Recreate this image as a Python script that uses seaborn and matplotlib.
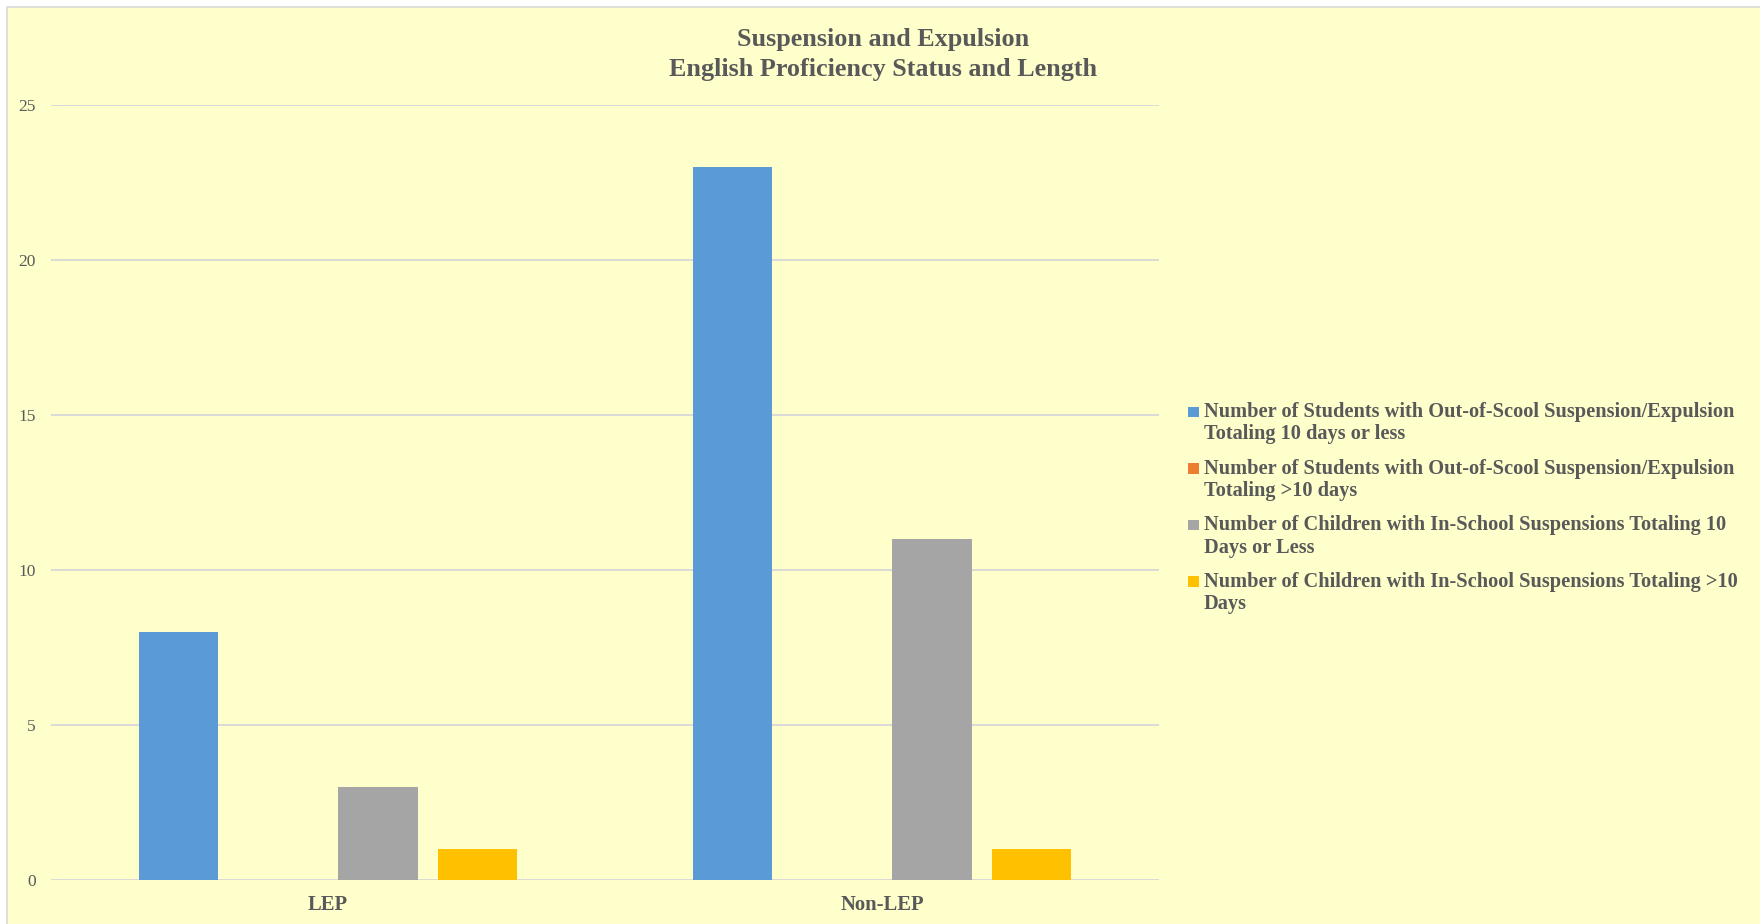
import numpy as np
import pandas as pd
import matplotlib
matplotlib.use("Agg")
import matplotlib.pyplot as plt
from matplotlib.patches import Rectangle
import seaborn as sns

# ---- data ----
categories = ["LEP", "Non-LEP"]
series_names = [
    "Number of Students with Out-of-Scool Suspension/Expulsion\nTotaling 10 days or less",
    "Number of Students with Out-of-Scool Suspension/Expulsion\nTotaling >10 days",
    "Number of Children with In-School Suspensions Totaling 10\nDays or Less",
    "Number of Children with In-School Suspensions Totaling >10\nDays",
]
out_le10 = [8, 23]
out_gt10 = [0, 0]
in_le10 = [3, 11]
in_gt10 = [1, 1]
series_colors = ["#5B9BD5", "#ED7D31", "#A5A5A5", "#FFC000"]
y_ticks = [0, 5, 10, 15, 20, 25]
title_lines = ["Suspension and Expulsion", "English Proficiency Status and Length"]

values = [out_le10, out_gt10, in_le10, in_gt10]
rows = []
for s, vals in zip(series_names, values):
    for c, v in zip(categories, vals):
        rows.append({"category": c, "series": s, "value": v})
df = pd.DataFrame(rows)

# ---- figure ----
sns.set_theme(style="white")
plt.rcParams["font.family"] = ["Liberation Serif", "DejaVu Serif"]
TXT = "#595959"
W, H = 1760, 924
fig = plt.figure(figsize=(W / 100, H / 100), dpi=100, facecolor="white")

# chart area background
bg = Rectangle((7 / W, -0.01), 1.0, (H - 7) / H + 0.01,
               transform=fig.transFigure, facecolor="#FFFFCC",
               edgecolor="#D9D9D9", linewidth=1.2, zorder=-10)
fig.patches.append(bg)

ax = fig.add_axes([51 / W, 44 / H, (1159 - 51) / W, 775 / H])
ax.set_facecolor("none")
ax.set_zorder(1)

sns.barplot(data=df, x="category", y="value", hue="series", order=categories,
            hue_order=series_names, palette=series_colors, width=0.72, gap=0.2,
            ax=ax, legend=False, saturation=1, linewidth=0)

ax.set_xlim(-0.5, 1.5)
ax.set_ylim(0, 25)
ax.set_yticks(y_ticks)
ax.set_yticklabels([str(t) for t in y_ticks])
ax.set_xlabel("")
ax.set_ylabel("")
for sp in ax.spines.values():
    sp.set_visible(False)
ax.grid(axis="y", color="#D9D9D9", linewidth=1.4)
ax.set_axisbelow(True)
ax.tick_params(axis="y", length=0, pad=11, labelsize=12.5, labelcolor=TXT)
ax.tick_params(axis="x", length=0, pad=10.5, labelsize=14.9, labelcolor=TXT)
for lab in ax.get_xticklabels():
    lab.set_fontweight("bold")

# title
fig.text(883 / W, 1 - 46 / H, title_lines[0], ha="center", va="baseline",
         fontsize=18.8, fontweight="bold", color=TXT)
fig.text(883 / W, 1 - 76 / H, title_lines[1], ha="center", va="baseline",
         fontsize=18.8, fontweight="bold", color=TXT)

# legend
for i, (name, col) in enumerate(zip(series_names, series_colors)):
    base = 417 + i * 56.5
    fig.patches.append(Rectangle((1188 / W, 1 - (base) / H), 11 / W, 10.5 / H,
                                 transform=fig.transFigure, facecolor=col,
                                 edgecolor="none", zorder=3))
    first, second = name.split("\n")
    fig.text(1204 / W, 1 - base / H, first, ha="left", va="baseline",
             fontsize=14.7, fontweight="bold", color=TXT)
    fig.text(1204 / W, 1 - (base + 22.5) / H, second, ha="left", va="baseline",
             fontsize=14.7, fontweight="bold", color=TXT)

fig.savefig("out.png", dpi=100, facecolor="white")
